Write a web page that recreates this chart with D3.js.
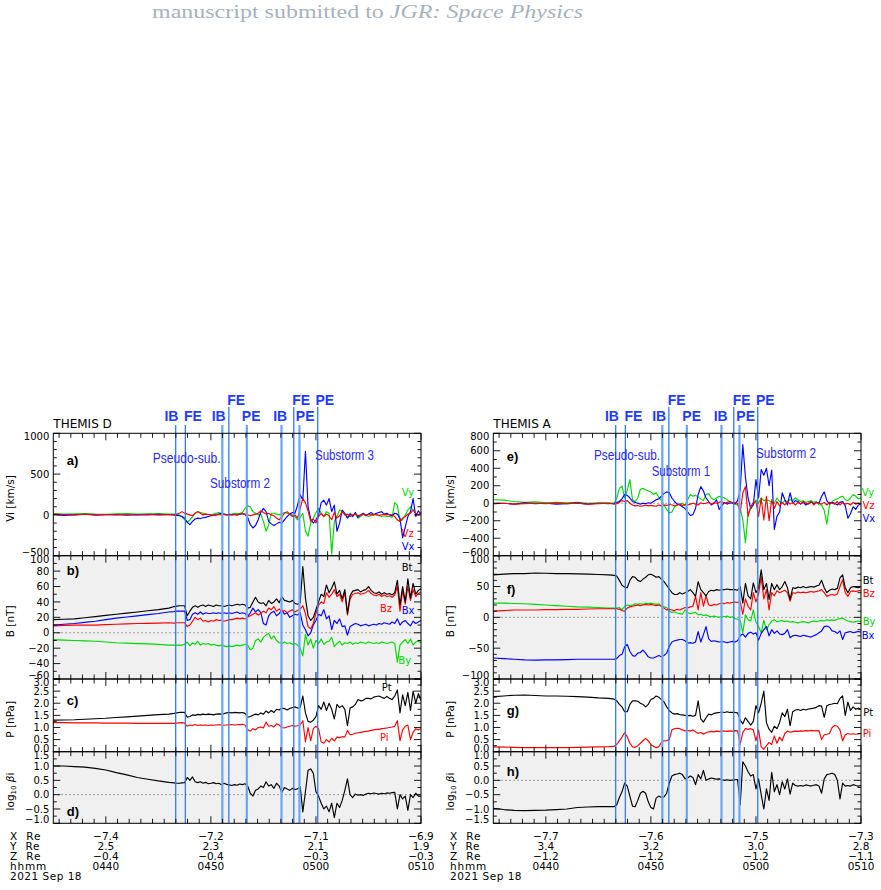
<!DOCTYPE html>
<html><head><meta charset="utf-8">
<script src="https://cdn.jsdelivr.net/npm/d3@7"></script>
<style>body{margin:0;background:#fff}svg{display:block}</style>
</head><body>
<script>
// ---------------- DATA ----------------
// time in minutes after 04:35 UT, 2021 Sep 18
const timesQuiet = [0,1,2,3,4,5,6,7,8,9,10,11];
const timesActive = [11.5,11.75,
 12,12.25,12.5,12.75,13,13.25,13.5,13.75,14,14.25,14.5,14.75,15,15.25,15.5,15.75,
 16,16.25,16.5,16.75,17,17.25,17.5,17.75,18,18.25,18.5,18.75,19,19.25,19.5,19.75,
 20,20.25,20.5,20.75,21,21.25,21.5,21.75,22,22.25,22.5,22.75,23,23.25,23.5,23.75,
 24,24.25,24.5,24.75,25,25.25,25.5,25.75,26,26.25,26.5,26.75,27,27.25,27.5,27.75,
 28,28.25,28.5,28.75,29,29.25,29.5,29.75,30,30.25,30.5,30.75,31,31.25,31.5,31.75,
 32,32.25,32.5,32.75,33,33.25,33.5,33.75,34,34.25,34.5,34.75,35];

// x-axis tick labels (at 04:40, 04:50, 05:00, 05:10)
const tickTimes = [5,15,25,35];
const hhmmLabels = ["0440","0450","0500","0510"];
const xReD = ["\u22127.4","\u22127.2","\u22127.1","\u22126.9"];
const yReD = ["2.5","2.3","2.1","1.9"];
const zReD = ["\u22120.4","\u22120.4","\u22120.3","\u22120.3"];
const xReA = ["\u22127.7","\u22127.6","\u22127.5","\u22127.3"];
const yReA = ["3.4","3.2","3.0","2.8"];
const zReA = ["\u22121.2","\u22121.2","\u22121.2","\u22121.1"];

// event markers
const eventTimes = [11.65,12.57,16.09,16.71,18.42,21.72,22.89,23.43,25.17];
const eventNames = ["IB","FE","IB","FE","PE","IB","FE","PE","PE"];
const eventRow   = [0,0,0,1,0,0,1,0,1];

// ---- THEMIS D ----
const vxD = [5,-5,0,8,-3,2,5,-4,3,0,6,2,
 0,-5, -10,-20,-40,-90, -120,-80,-50,-40, -45,-35,-30,-20, -10,-5,0,10, 20,10,0,5, 0,5,0,10,
 15,5,-30,-120, -160,-130,-60,30, 80,40,-80,-110, -130,-110,-90,-100, -60,-20,10,30, 20,120,250,180,
 780,100,-50,-100, -60,0,150,180, 120,200,40,120, -200,-100,60,20, -40,10,-20,30, -30,0,20,-10,
 10,30,0,20, 30,40,10,20, 0,-10,20,10, -40,-280,-150,-20, 40,200,-20,50, 10];
const vyD = [15,10,12,15,10,8,12,15,10,12,15,10,
 10,5, 0,-20,-60,-90, -60,-20,20,40, 30,20,10,5, 0,10,20,30, 20,10,5,0, 10,20,15,20,
 30,80,110,100, 40,20,0,10, -80,-200,-120,20, 20,10,0,10, 30,20,10,0, -20,-60,-30,20,
 -200,-260,-100,-40, 30,80,20,-20, 40,20,-480,-80, -20,60,40,10, -30,20,-10,10, -40,-20,10,0,
 -20,-10,0,10, -10,-20,-10,-20, -20,-30,150,120, -80,-60,0,60, 100,60,20,0, 30];
const vzD = [10,5,0,8,3,5,0,5,2,8,0,5,
 0,10, 20,40,20,10, 0,-10,20,40, 20,0,10,5, 0,-5,0,5, 0,5,0,10, 0,5,0,10,
 20,10,0,-10, 0,10,20,50, 30,10,20,0, -10,-40,-60,-20, 20,40,10,-20, 0,-40,80,200,
 150,50,-80,-50, -100,-20,20,-20, 10,-10,-60,30, -40,-10,40,0, 10,-20,0,10, -10,0,10,0,
 5,0,10,0, -5,0,10,0, 5,0,-20,-60, -80,-40,-20,10, 20,60,20,0, 20];
const btD = [17,17.5,18,19.5,21,22.5,24,25.5,27,28.5,30,32,
 34,34.5, 35,35,35,22, 28,33,35,33, 35,36,34,36, 35,34,36,35, 35,34,35,36, 35,36,37,36,
 37,36,32,33, 40,46,40,38, 39,35,42,38, 40,44,39,47, 42,41,40,42, 38,37,39,86,
 45,22,16,20, 30,40,50,47, 62,52,58,66, 50,55,44,56, 25,48,54,55, 56,53,55,56,
 60,55,52,51, 53,50,52,50, 51,49,52,68, 36,60,40,70, 45,64,50,55, 57];
const bxD = [10,11,12,13.5,15,17,19,20.5,22,23.5,25,27,
 27.5,28, 28,28,28,16, 17,24,26,24, 27,24,26,25, 25,26,25,26, 25,26,25,26, 25,26,27,25,
 26,25,21,26, 32,27,30,26, 12,10,22,26, 28,22,25,30, 24,26,20,22, 24,23,26,10,
 4,-4,0,10, 16,24,22,30, 18,22,4,16, 12,18,8,9, -3,8,10,12, 11,9,10,11,
 9,10,11,10, 12,11,13,12, 11,14,12,18, 10,14,16,12, 9,15,12,14, 16];
const byD = [-9,-9.5,-10,-10.5,-11,-12,-13,-13.5,-14,-14.5,-15,-16,
 -16,-16, -16,-16,-15,-12, -17,-13,-15,-11, -16,-14,-15,-14, -16,-15,-16,-17, -16,-17,-18,-17, -18,-17,-16,-17,
 -16,-15,-16,-22, -20,-10,-8,-12, -6,-3,-1,-8, -4,-10,-13,-14, -12,-14,-13,-15, -14,-16,-20,-30,
 -2,-16,-8,-20, -10,-14,-8,-15, -12,-11,-6,-18, -14,-11,-16,-13, -14,-12,-15,-13, -14,-12,-13,-14,
 -12,-13,-14,-13, -14,-12,-13,-14, -13,-12,-14,-38, -16,-12,-9,-14, -8,-16,-12,-11, -13];
const bzD = [9,9.5,10,10,10,10.5,11,11.5,12,12.2,12.5,13,
 12.5,13, 13,13,13,8, 10,15,20,17, 19,15,16,14, 16,15,17,16, 16,15,16,17, 17,18,19,18,
 19,18,20,22, 24,26,23,25, 28,26,32,30, 34,28,31,27, 29,26,28,30, 27,29,31,35,
 25,8,5,12, 25,36,40,38, 52,46,50,56, 47,50,40,52, 23,44,50,51, 52,50,51,52,
 55,51,49,48, 50,47,49,47, 48,46,49,60, 28,55,37,60, 42,56,47,51, 53];
const ptD = [1.3,1.31,1.32,1.34,1.36,1.38,1.41,1.44,1.47,1.5,1.53,1.55,
 1.58,1.6, 1.62,1.63,1.62,1.42, 1.45,1.52,1.5,1.54, 1.52,1.55,1.53,1.55, 1.54,1.52,1.55,1.56, 1.55,1.57,1.6,1.62, 1.6,1.62,1.61,1.6,
 1.62,1.58,1.42,1.45, 1.5,1.55,1.52,1.6, 1.55,1.68,1.6,1.7, 1.62,1.75,1.72,1.8, 1.78,1.72,1.78,1.82, 1.85,1.8,1.82,2.3,
 1.6,1.25,1.22,1.3, 1.45,1.9,1.75,2.05, 1.7,2.0,1.75,1.35, 1.95,1.82,1.9,1.75, 1.07,1.8,1.85,1.95, 2.15,2.1,2.12,2.2,
 2.2,2.18,2.25,2.28, 2.3,2.25,2.2,2.28, 2.2,2.15,2.3,2.55, 1.6,2.35,1.9,2.45, 1.7,2.5,2.0,2.4, 2.1];
const piD = [1.2,1.2,1.19,1.19,1.19,1.18,1.18,1.18,1.17,1.17,1.17,1.17,
 1.17,1.18, 1.19,1.2,1.18,1.05, 1.1,1.08,1.12,1.08, 1.1,1.09,1.1,1.08, 1.1,1.09,1.1,1.11, 1.1,1.09,1.1,1.11, 1.12,1.1,1.11,1.12,
 1.13,1.1,0.9,0.85, 0.95,0.9,1.0,1.02, 0.98,1.22,1.05,1.08, 1.02,1.15,1.1,1.0, 0.98,1.02,1.05,1.08, 1.05,1.07,1.1,1.28,
 0.4,1.0,0.45,0.95, 1.05,0.95,0.4,0.35, 0.5,0.4,0.55,0.45, 0.6,0.58,0.62,0.6, 0.88,0.7,0.72,0.76, 0.78,0.8,0.82,0.84,
 0.85,0.88,0.9,0.92, 0.92,0.95,0.96,0.98, 1.0,1.02,1.05,1.28, 0.45,0.9,1.05,1.1, 0.5,0.8,0.95,0.9, 0.95];
const betaD = [1.0,1.0,0.98,0.96,0.92,0.86,0.77,0.69,0.6,0.54,0.48,0.43,
 0.41,0.4, 0.4,0.41,0.42,0.6, 0.5,0.62,0.45,0.42, 0.45,0.4,0.43,0.38, 0.4,0.42,0.38,0.4, 0.35,0.4,0.36,0.34, 0.32,0.35,0.33,0.37,
 0.35,0.38,0.3,0.05, -0.05,0.15,0.2,0.3, 0.25,0.45,0.3,0.35, 0.22,0.4,0.3,0.08, 0.25,0.2,0.15,0.22, 0.18,0.2,0.28,-0.6,
 0.1,0.85,0.9,0.75, 0.1,-0.05,-0.3,-0.5, -0.4,-0.6,-0.3,-0.8, -0.3,-0.45,-0.2,0.15, 0.55,0.0,-0.1,0.02, -0.02,0.0,-0.03,0.02,
 0.05,0.03,0.06,0.04, 0.02,0.05,0.03,0.06, 0.05,0.07,0.08,-0.5, 0.0,-0.15,-0.05,-0.55, 0.0,-0.1,0.05,-0.05, -0.05];

// ---- THEMIS A ----
const vxA = [-5,0,-10,5,-5,0,-10,-5,5,-10,0,-5,
 0,10, 20,50,100,90, 60,20,10,0, -10,0,-5,5, 0,20,40,50, 80,110,130,120, 60,20,-10,-20,
 -40,-60,-100,-140, -130,-60,100,190, 140,60,20,-20, 0,40,-70,-30, 10,-10,5,0, -10,30,150,670,
 300,60,-60,-20, 270,60,385,320, 400,200,380,-300, -150,-100,120,40, -20,120,0,30, 20,-10,10,-20,
 0,20,-10,10, 0,80,130,30, -10,10,0,-20, 10,20,-30,-170, -120,-40,-70,-20, -10];
const vyA = [40,35,20,10,15,5,10,5,10,0,5,5,
 0,60, 170,195,60,150, 270,40,20,60, 160,170,155,140, 130,100,120,70, 30,-20,-70,-110, -100,-40,-20,-10,
 0,-30,40,100, 80,90,70,50, 30,100,110,60, 40,60,80,70, 60,40,20,10, 0,-20,-60,-190,
 -450,-120,-60,-20, 40,0,60,30, 40,30,10,0, 60,20,0,30, 20,40,30,60, 40,20,30,10,
 20,30,10,20, -20,-20,-80,-240, -20,20,40,50, 70,80,40,30, 60,100,80,50, 60];
const vzA = [-5,0,-10,-5,0,-5,5,-5,0,-10,-5,0,
 -10,-5, 10,30,20,30, 0,-20,-30,-25, -35,-30,-20,-30, -25,-30,-35,-20, -30,-20,-25,-15, -20,-30,-20,-10,
 -25,-15,-20,-10, 0,-10,-20,5, -5,0,10,-10, 5,0,10,20, 0,10,20,5, 10,0,-110,120,
 190,-150,-40,10, 20,-150,60,-190, 80,-200,40,-60, 20,-30,10,-20, 20,-10,10,-20, 10,-10,20,0,
 -10,20,-20,10, 0,-10,10,-20, 10,0,-10,20, -20,10,-10,0, -20,10,-10,0, -10];
const btA = [69,70,71,71,72,71.5,71,71,70.5,70,69.5,69,
 68,67, 60,52,49,48, 60,66,65,60, 58,62,65,69, 70,68,65,66, 62,58,52,46, 40,37,37,40,
 38,40,42,45, 40,34,58,45, 40,35,42,44, 43,45,44,45, 45,46,45,45, 45,44,50,23,
 55,35,30,56, 40,48,77,45, 55,29,55,45, 53,45,50,58, 48,29,48,47, 49,48,50,48,
 49,50,49,51, 52,60,48,40, 44,46,45,47, 64,69,48,40, 48,50,49,48, 50];
const bxA = [-66,-67,-68,-69,-69.5,-69,-69,-68.5,-68,-68,-68,-68,
 -68,-67, -62,-60,-48,-44, -55,-62,-63,-58, -57,-53,-58,-64, -66,-66,-64,-62, -64,-62,-58,-47, -40,-38,-37,-36,
 -36,-38,-42,-41, -42,-40,-23,-40, -28,-15,-35,-39, -38,-39,-40,-39, -40,-41,-40,-39, -40,-38,-30,-27,
 -32,-26,-24,-27, -25,-37,-26,-20, -15,-30,-20,-26, -22,-27,-28,-26, -20,-33,-30,-29, -30,-31,-29,-30,
 -31,-32,-30,-28, -25,-22,-15,-14, -16,-22,-23,-26, -22,-36,-25,-24, -23,-25,-24,-23, -24];
const byA = [23,23,22.5,22,21,20,19,18,17,16.5,16,15,
 15,15, 16,12,18,20, 19,20,22,21, 22,21,23,22, 23,22,21,22, 18,17,16,10, 8,9,7,6,
 5,12,8,6, 7,8,4,5, 3,4,2,1, 2,1,0,2, 1,2,0,1, -2,-3,-5,-25,
 4,-4,-6,12, -8,-15,-25,-5, -20,-12,-6,-4, -7,-6,-5,-7, -6,-8,-7,-8, -9,-8,-7,-8,
 -9,-7,-6,-7, -6,-5,-6,-4, -5,-4,-5,-3, -2,-1,-4,-6, -7,-8,-7,-6, -7];
const bzA = [10,11,12,12,12,12.5,12.5,13,13,13.5,14,14,
 14,14, 13,11,10,15, 17,18,19,20, 19,20,21,20, 21,20,19,20, 18,15,12,13, 12,11,13,12,
 14,16,15,17, 18,34,12,40, 18,35,20,19, 21,20,22,23, 22,24,23,24, 25,24,26,5,
 30,18,12,40, 25,38,66,30, 45,12,40,35, 43,40,42,44, 40,26,40,39, 41,40,41,40,
 41,42,41,42, 43,45,40,34, 36,37,36,38, 50,61,40,34, 42,43,42,43, 44];
const ptA = [2.27,2.3,2.33,2.34,2.32,2.3,2.3,2.29,2.27,2.25,2.22,2.2,
 2.17,2.1, 1.95,1.85,1.65,1.65, 1.95,2.1,2.1,2.08, 2.0,1.95,1.85,1.95, 2.15,2.2,2.3,2.25, 2.15,2.05,1.85,1.7, 1.6,1.55,1.57,1.53,
 1.52,1.5,1.48,1.5, 1.46,1.5,2.1,1.35, 1.22,1.4,1.55,1.52, 1.58,1.6,1.62,1.64, 1.62,1.65,1.62,1.63, 1.62,1.6,1.3,1.15,
 1.4,1.25,1.1,1.25, 1.9,1.6,2.0,2.5, 1.2,0.93,0.8,1.05, 0.95,1.2,1.6,1.45, 1.75,1.07,1.65,1.72, 1.74,1.7,1.75,1.72,
 1.76,1.78,1.8,1.83, 1.9,1.88,1.42,1.9, 1.95,1.97,2.0,1.98, 2.2,2.3,1.5,2.05, 1.7,1.85,1.75,1.8, 1.75];
const piA = [0.2,0.19,0.18,0.17,0.17,0.17,0.17,0.17,0.18,0.19,0.2,0.21,
 0.22,0.3, 0.45,0.6,0.78,0.62, 0.35,0.2,0.18,0.25, 0.35,0.45,0.55,0.45, 0.3,0.22,0.17,0.2, 0.38,0.45,0.45,0.5, 0.9,0.95,0.97,0.95,
 0.9,0.86,0.88,0.85, 0.9,0.82,0.75,0.8, 0.72,0.78,0.82,0.84, 0.82,0.85,0.84,0.86, 0.85,0.84,0.86,0.85, 0.87,0.86,0.3,0.8,
 0.95,0.92,0.95,0.9, 0.45,0.9,0.2,0.1, 0.25,0.38,0.3,0.65, 0.35,0.6,0.45,0.75, 0.85,0.8,0.83,0.85, 0.84,0.86,0.85,0.87,
 0.86,0.88,0.87,0.86, 0.87,0.5,0.7,0.72, 0.75,1.0,1.08,1.05, 0.9,0.45,0.7,0.75, 0.72,0.74,0.72,0.73, 0.75];
const betaA = [-0.98,-1.02,-1.05,-1.06,-1.05,-1.04,-1.02,-1.0,-0.95,-0.93,-0.92,-0.92,
 -0.92,-0.85, -0.6,-0.4,-0.1,-0.2, -0.55,-0.9,-0.92,-0.7, -0.45,-0.38,-0.45,-0.75, -0.95,-1.0,-0.62,-0.55, -0.6,-0.58,-0.45,-0.1, 0.15,0.2,0.22,0.25,
 0.2,0.05,0.08,0.15, 0.1,-0.15,0.2,0.05, 0.35,0.0,0.05,0.08, 0.06,0.04,0.05,0.02, 0.0,0.02,0.0,0.01, 0.02,0.03,-0.85,0.65,
 0.5,0.3,0.15,0.2, -0.3,0.05,-0.5,-1.0, -0.3,-0.7,0.28,-0.4, -0.15,-0.5,-0.05,-0.3, 0.05,-0.48,-0.1,-0.18, -0.2,-0.18,-0.2,-0.16,
 -0.18,-0.2,-0.17,-0.15, -0.2,-0.45,0.05,0.2, 0.22,0.25,0.2,0.0, -0.65,-0.1,-0.2,-0.18, -0.2,-0.15,-0.18,-0.2, -0.18];

// ---------------- LAYOUT / STYLE ----------------
const sampleTimes = timesQuiet.concat(timesActive);
const W = 881, H = 890;
const PW = 367.7;
const PANEL_Y = [[433.3,555.7],[555.7,679],[679,751.7],[751.7,823.3]];
const GREEN = "#00d800", RED = "#ff0000", BLUE = "#0000ff", BLACK = "#000000";
const GREY_BG = "#f0f0f0";
const TICK_FONT = "'DejaVu Sans', 'Liberation Sans', sans-serif";
const LBL_FONT = "'Liberation Sans', Arial, sans-serif";
const ANNO_FONT = "'Liberation Sans Narrow', 'Liberation Sans', Arial, sans-serif";
const EVENT_LABEL_DX = [-4.3,7.6,-3.7,7.4,4.4,-1.3,7.4,5.7,7];
const EVENT_STYLE = [0,0,1,0,1,1,0,1,0]; // 1 = wide light line

const svg = d3.select("body").append("svg").attr("width", W).attr("height", H);
svg.append("rect").attr("width", W).attr("height", H).attr("fill", "#fff");
const defs = svg.append("defs");

// header
const hdr = svg.append("text").attr("x", 152).attr("y", 18)
  .attr("font-family", "'Liberation Serif','DejaVu Serif',serif").attr("font-size", 18)
  .attr("fill", "#a6b2be").attr("textLength", 431).attr("lengthAdjust", "spacingAndGlyphs");
hdr.append("tspan").text("manuscript submitted to ");
hdr.append("tspan").attr("font-style", "italic").text("JGR: Space Physics");

function pairs(vals) {
  const n = Math.min(vals.length, sampleTimes.length);
  const out = [];
  for (let i = 0; i < n; i++) out.push([sampleTimes[i], vals[i]]);
  return out;
}
function rangeStep(a, b, s) { // tick positions (not data)
  const out = []; const n = Math.round((b - a) / s);
  for (let i = 0; i <= n; i++) out.push(+(a + i * s).toFixed(6));
  return out;
}

function drawPlot(cfg) {
  const x0 = cfg.x0, x1 = x0 + PW;
  const x = d3.scaleLinear().domain([0, 35]).range([x0, x1]);
  const g = svg.append("g");

  // x tick positions: 9 intervals per 10 minutes, anchored on 04:40
  const xt = [];
  for (let k = -5; k <= 30; k++) {
    const t = 5 + k * 10 / 9;
    if (t >= -0.001 && t <= 35.001) xt.push({t, major: k % 9 === 0});
  }

  cfg.panels.forEach((p, i) => {
    const [yt, yb] = PANEL_Y[i];
    const y = d3.scaleLinear().domain(p.domain).range([yb, yt]);
    const cid = "clip" + cfg.id + i;
    defs.append("clipPath").attr("id", cid).append("rect")
      .attr("x", x0).attr("y", yt).attr("width", PW).attr("height", yb - yt);
    g.append("rect").attr("x", x0).attr("y", yt).attr("width", PW).attr("height", yb - yt)
      .attr("fill", p.bg);
    const pg = g.append("g").attr("clip-path", `url(#${cid})`);
    if (p.zero) {
      pg.append("line").attr("x1", x0).attr("x2", x1).attr("y1", y(0)).attr("y2", y(0))
        .attr("stroke", "#777").attr("stroke-width", 0.9).attr("stroke-dasharray", "1.5,2.5");
    }
    const line = d3.line().x(d => x(d[0])).y(d => y(d[1]));
    p.series.forEach(s => {
      pg.append("path").attr("d", line(pairs(s.v))).attr("fill", "none")
        .attr("stroke", s.c).attr("stroke-width", 1.15).attr("stroke-linejoin", "round");
    });
    p.y = y; p.yt = yt; p.yb = yb;
  });

  // event lines
  eventTimes.forEach((t, j) => {
    const wide = EVENT_STYLE[j] === 1;
    g.append("line").attr("x1", x(t)).attr("x2", x(t))
      .attr("y1", eventRow[j] === 1 ? 407 : 425).attr("y2", PANEL_Y[3][1])
      .attr("stroke", wide ? "#6aa6f8" : "#2e7cf2").attr("stroke-width", wide ? 2.2 : 1.3);
    g.append("text").attr("x", x(t) + EVENT_LABEL_DX[j] + (cfg.id === "A" ? 0.5 : 0))
      .attr("y", eventRow[j] === 1 ? 404.5 : 421)
      .attr("text-anchor", "middle").attr("font-family", LBL_FONT).attr("font-weight", "bold")
      .attr("font-size", 14).attr("fill", "#1e3cff").text(eventNames[j]);
  });

  // frames and ticks
  cfg.panels.forEach((p, i) => {
    const {y, yt, yb} = p;
    g.append("rect").attr("x", x0).attr("y", yt).attr("width", PW).attr("height", yb - yt)
      .attr("fill", "none").attr("stroke", "#000").attr("stroke-width", 1);
    xt.forEach(d => {
      const L = d.major ? 7 : 4.5;
      g.append("line").attr("x1", x(d.t)).attr("x2", x(d.t)).attr("y1", yb).attr("y2", yb - L)
        .attr("stroke", "#000").attr("stroke-width", 0.9);
      g.append("line").attr("x1", x(d.t)).attr("x2", x(d.t)).attr("y1", yt).attr("y2", yt + L)
        .attr("stroke", "#000").attr("stroke-width", 0.9);
    });
    const minors = rangeStep(p.domain[0], p.domain[1], p.minor);
    minors.forEach(v => {
      const isMajor = p.major.some(m => Math.abs(m - v) < 1e-6);
      const L = isMajor ? 7 : 3.5;
      g.append("line").attr("x1", x0).attr("x2", x0 + L).attr("y1", y(v)).attr("y2", y(v))
        .attr("stroke", "#000").attr("stroke-width", 0.9);
      g.append("line").attr("x1", x1).attr("x2", x1 - L).attr("y1", y(v)).attr("y2", y(v))
        .attr("stroke", "#000").attr("stroke-width", 0.9);
    });
    p.major.forEach(v => {
      let yy = y(v);
      if (Math.abs(yy - yt) < 1) yy += 3.5;
      if (Math.abs(yy - yb) < 1) yy -= 3.5;
      g.append("text").attr("x", x0 - 4).attr("y", yy).attr("dy", "0.36em")
        .attr("text-anchor", "end").attr("font-family", TICK_FONT).attr("font-size", 10)
        .attr("fill", "#000").text(p.fmt(v));
    });
    // y title
    const ty = g.append("text").attr("transform", `translate(${x0 - 39.5},${(yt + yb) / 2 + 4}) rotate(-90)`)
      .attr("text-anchor", "middle").attr("font-family", TICK_FONT).attr("font-size", 10.5)
      .attr("fill", "#000");
    if (p.titleLog) {
      ty.append("tspan").text("log");
      ty.append("tspan").attr("font-size", 7).attr("dy", 2.5).text("10");
      ty.append("tspan").attr("dy", -2.5).text(" ");
      ty.append("tspan").attr("font-style", "italic").text("\u03b2");
      ty.append("tspan").text("i");
    } else ty.text(p.title);
    // panel letter
    g.append("text").attr("x", x0 + 13.4).attr("y", p.letterY).attr("font-family", LBL_FONT)
      .attr("font-weight", "bold").attr("font-size", 13).attr("fill", "#000").text(p.letter);
  });

  // series labels
  cfg.seriesLabels.forEach(s => {
    g.append("text").attr("x", s.x).attr("y", s.y).attr("font-family", TICK_FONT)
      .attr("font-size", 10).attr("fill", s.c).text(s.t);
  });

  // annotations
  cfg.annos.forEach(a => {
    g.append("text").attr("x", a.x).attr("y", a.y).attr("font-family", ANNO_FONT)
      .attr("font-size", 14).attr("fill", "#2a2af0").attr("textLength", a.w)
      .attr("lengthAdjust", "spacingAndGlyphs").text(a.t);
  });

  // spacecraft title
  g.append("text").attr("x", x0).attr("y", 428).attr("font-family", TICK_FONT)
    .attr("font-size", 12).attr("fill", "#000").text(cfg.title);

  // bottom annotation
  const rows = [["X  Re", cfg.xRe], ["Y  Re", cfg.yRe], ["Z  Re", cfg.zRe], ["hhmm", hhmmLabels]];
  rows.forEach((r, k) => {
    const by = 840 + k * 10;
    g.append("text").attr("x", cfg.x0 - 43.3).attr("y", by).attr("font-family", TICK_FONT)
      .attr("font-size", 10.5).attr("letter-spacing", 0.8).attr("xml:space", "preserve")
      .style("white-space", "pre").attr("fill", "#000").text(r[0]);
    tickTimes.forEach((t, j) => {
      g.append("text").attr("x", x(t)).attr("y", by).attr("text-anchor", "middle")
        .attr("font-family", TICK_FONT).attr("font-size", 10.5).attr("fill", "#000").text(r[1][j]);
    });
  });
  g.append("text").attr("x", cfg.x0 - 43.3).attr("y", 880).attr("font-family", TICK_FONT)
    .attr("font-size", 10.5).attr("letter-spacing", 0.5).attr("fill", "#000").text("2021 Sep 18");
}

const fInt = d3.format("d"), f1 = d3.format(".1f");

drawPlot({
  id: "D", x0: 53.3, title: "THEMIS D", xRe: xReD, yRe: yReD, zRe: zReD,
  panels: [
    {domain: [-500, 1000], major: [-500, 0, 500, 1000], minor: 100, fmt: fInt, bg: "#fff", zero: false,
     title: "Vi [km/s]", letter: "a)", letterY: 464.5,
     series: [{v: vyD, c: GREEN}, {v: vxD, c: BLUE}, {v: vzD, c: RED}]},
    {domain: [-60, 100], major: [-60, -40, -20, 0, 20, 40, 60, 80, 100], minor: 10, fmt: fInt, bg: GREY_BG, zero: true,
     title: "B [nT]", letter: "b)", letterY: 574.5,
     series: [{v: byD, c: GREEN}, {v: bxD, c: BLUE}, {v: bzD, c: RED}, {v: btD, c: BLACK}]},
    {domain: [0, 3], major: [0, 0.5, 1, 1.5, 2, 2.5, 3], minor: 0.25, fmt: f1, bg: "#fff", zero: false,
     title: "P [nPa]", letter: "c)", letterY: 704.5,
     series: [{v: piD, c: RED}, {v: ptD, c: BLACK}]},
    {domain: [-1, 1.5], major: [-1, -0.5, 0, 0.5, 1, 1.5], minor: 0.25, fmt: f1, bg: GREY_BG, zero: true,
     titleLog: true, letter: "d)", letterY: 815.5,
     series: [{v: betaD, c: BLACK}]}
  ],
  seriesLabels: [
    {t: "Vy", x: 401.7, y: 495.5, c: GREEN}, {t: "Vz", x: 401.7, y: 537, c: RED},
    {t: "Vx", x: 401.7, y: 549.5, c: BLUE}, {t: "Bt", x: 401.7, y: 570.5, c: BLACK},
    {t: "Bz", x: 380, y: 612, c: RED}, {t: "Bx", x: 401.7, y: 614, c: BLUE},
    {t: "By", x: 398.3, y: 664, c: GREEN}, {t: "Pt", x: 381.7, y: 690.5, c: BLACK},
    {t: "Pi", x: 380, y: 740.5, c: RED}
  ],
  annos: [
    {t: "Pseudo-sub.", x: 152.7, y: 463, w: 68},
    {t: "Substorm 2", x: 210, y: 488, w: 60},
    {t: "Substorm 3", x: 315, y: 460, w: 59}
  ]
});

drawPlot({
  id: "A", x0: 493.3, title: "THEMIS A", xRe: xReA, yRe: yReA, zRe: zReA,
  panels: [
    {domain: [-600, 800], major: [-600, -400, -200, 0, 200, 400, 600, 800], minor: 100, fmt: fInt, bg: "#fff", zero: true,
     title: "Vi [km/s]", letter: "e)", letterY: 461,
     series: [{v: vyA, c: GREEN}, {v: vxA, c: BLUE}, {v: vzA, c: RED}]},
    {domain: [-100, 100], major: [-100, -50, 0, 50, 100], minor: 10, fmt: fInt, bg: GREY_BG, zero: true,
     title: "B [nT]", letter: "f)", letterY: 593.5,
     series: [{v: byA, c: GREEN}, {v: bxA, c: BLUE}, {v: bzA, c: RED}, {v: btA, c: BLACK}]},
    {domain: [0, 3], major: [0, 0.5, 1, 1.5, 2, 2.5, 3], minor: 0.25, fmt: f1, bg: "#fff", zero: false,
     title: "P [nPa]", letter: "g)", letterY: 715,
     series: [{v: piA, c: RED}, {v: ptA, c: BLACK}]},
    {domain: [-1.5, 1], major: [-1.5, -1, -0.5, 0, 0.5, 1], minor: 0.25, fmt: f1, bg: GREY_BG, zero: true,
     titleLog: true, letter: "h)", letterY: 775.5,
     series: [{v: betaA, c: BLACK}]}
  ],
  seriesLabels: [
    {t: "Vy", x: 861.7, y: 495.5, c: GREEN}, {t: "Vz", x: 862.5, y: 509, c: RED},
    {t: "Vx", x: 862.5, y: 522, c: BLUE}, {t: "Bt", x: 862.7, y: 584, c: BLACK},
    {t: "Bz", x: 862.7, y: 596.5, c: RED}, {t: "By", x: 862.7, y: 624.5, c: GREEN},
    {t: "Bx", x: 861.7, y: 639, c: BLUE}, {t: "Pt", x: 863.3, y: 715.5, c: BLACK},
    {t: "Pi", x: 862.7, y: 737, c: RED}
  ],
  annos: [
    {t: "Pseudo-sub.", x: 594, y: 460, w: 66},
    {t: "Substorm 1", x: 651.7, y: 476, w: 58.3},
    {t: "Substorm 2", x: 756, y: 458, w: 60}
  ]
});
</script>
</body></html>
